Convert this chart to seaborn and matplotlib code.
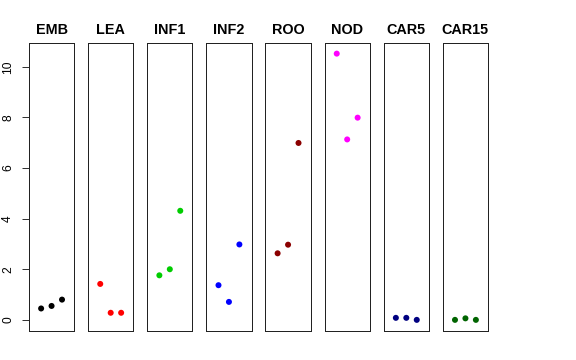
import matplotlib
matplotlib.use("Agg")
import matplotlib.pyplot as plt
import seaborn as sns
import pandas as pd

tissues = ["EMB", "LEA", "INF1", "INF2", "ROO", "NOD", "CAR5", "CAR15"]
colors = ["#000000", "#FF0000", "#00CD00", "#0000FF", "#8B0000", "#FF00FF", "#000080", "#006400"]
emb = [0.45, 0.55, 0.80]
lea = [1.42, 0.28, 0.28]
inf1 = [1.76, 2.00, 4.31]
inf2 = [1.37, 0.71, 2.98]
roo = [2.63, 2.97, 6.99]
nod = [10.52, 7.13, 7.99]
car5 = [0.08, 0.08, 0.00]
car15 = [0.00, 0.06, 0.00]
replicates = [1, 2, 3]
yticks = [0, 2, 4, 6, 8, 10]

values = [emb, lea, inf1, inf2, roo, nod, car5, car15]

sns.set_theme(style="white")
plt.rcParams["font.family"] = ["Liberation Sans", "DejaVu Sans"]
plt.rcParams["text.color"] = "black"
plt.rcParams["ytick.color"] = "black"
plt.rcParams["ytick.labelcolor"] = "black"

fig, axes = plt.subplots(1, 8, figsize=(8, 5), dpi=72, sharey=True)
fig.subplots_adjust(left=29/576, right=488/576, top=1-43/360, bottom=1-331/360, wspace=0.31)

for ax, name, col, vals in zip(axes, tissues, colors, values):
    df = pd.DataFrame({"rep": replicates, "value": vals})
    sns.scatterplot(data=df, x="rep", y="value", ax=ax, color=col, s=36,
                    edgecolor="none", linewidth=0)
    ax.set_xlim(-0.16, 4.16)
    ax.set_ylim(-0.44, 10.94)
    ax.set_xticks([])
    ax.set_xlabel("")
    ax.set_ylabel("")
    ax.set_title(name, fontsize=14.4, fontweight="bold", pad=9, color="black")
    for sp in ax.spines.values():
        sp.set_visible(True)
        sp.set_color("#222222")
        sp.set_linewidth(1)
    ax.tick_params(axis="y", left=False, labelleft=False)

ax0 = axes[0]
ax0.set_yticks(yticks)
ax0.set_yticklabels([str(t) for t in yticks])
ax0.tick_params(axis="y", left=True, labelleft=True, length=7, width=1,
                color="#333333", labelcolor="black", labelsize=12, pad=8,
                labelrotation=90)
for lab in ax0.get_yticklabels():
    lab.set_va("center")

fig.savefig("out.png", dpi=72, facecolor="white")
